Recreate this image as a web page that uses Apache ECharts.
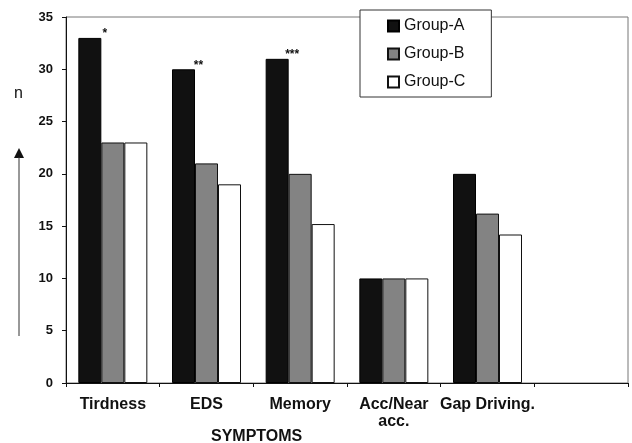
<!DOCTYPE html>
<html><head><meta charset="utf-8">
<script src="https://cdn.jsdelivr.net/npm/echarts@6/dist/echarts.min.js"></script>
<style>html,body{margin:0;padding:0;background:#fff}#c{width:632px;height:443px}</style>
</head><body><div id="c"></div>
<script>
const categories = ['Tirdness', 'EDS', 'Memory', 'Acc/Near\nacc.', 'Gap Driving.', ''];
const groupA = [33, 30, 31, 10, 20];
const groupB = [23, 21, 20, 10, 16.2];
const groupC = [23, 19, 15.2, 10, 14.2];
const stars = ['*', '**', '***', '', ''];
const yTicks = { min: 0, max: 35, interval: 5 };
const FONT = '"Liberation Sans", Arial, sans-serif';

const chart = echarts.init(document.getElementById('c'), null, { renderer: 'canvas' });
const barBase = { type: 'bar', barWidth: 23, barGap: '0%' };
chart.setOption({
  backgroundColor: '#fff',
  animation: false,
  grid: { left: 66, right: 4, top: 17, bottom: 60, show: true, borderColor: '#777', borderWidth: 1, backgroundColor: 'transparent' },
  legend: {
    orient: 'vertical', left: 360, top: 10,
    backgroundColor: '#fff', borderColor: '#333', borderWidth: 1,
    padding: [8, 26, 7, 27], itemGap: 12, itemWidth: 11, itemHeight: 11,
    textStyle: { fontFamily: FONT, fontSize: 16, color: '#111' },
    data: [{ name: 'Group-A', icon: 'rect' }, { name: 'Group-B', icon: 'rect' }, { name: 'Group-C', icon: 'rect' }]
  },
  xAxis: {
    type: 'category', data: categories, boundaryGap: true,
    axisLine: { lineStyle: { color: '#111', width: 1 } },
    axisTick: { show: true, inside: false, length: 4, lineStyle: { color: '#111' } },
    axisLabel: { fontFamily: FONT, fontSize: 16, fontWeight: 'bold', color: '#111', margin: 13, interval: 0, lineHeight: 17 }
  },
  yAxis: {
    type: 'value', min: yTicks.min, max: yTicks.max, interval: yTicks.interval,
    splitLine: { show: false },
    axisLine: { show: true, lineStyle: { color: '#111', width: 1 } },
    axisTick: { show: true, inside: false, length: 4, lineStyle: { color: '#111' } },
    axisLabel: { fontFamily: FONT, fontSize: 13, fontWeight: 'bold', color: '#111', margin: 13 }
  },
  series: [
    Object.assign({}, barBase, {
      name: 'Group-A', data: groupA,
      itemStyle: { color: '#111', borderColor: '#000', borderWidth: 1 },
      label: { show: true, position: 'top', distance: 0, offset: [15, 2], fontFamily: FONT, fontSize: 12, fontWeight: 'bold', color: '#111',
        formatter: p => stars[p.dataIndex] || '' }
    }),
    Object.assign({}, barBase, {
      name: 'Group-B', data: groupB,
      itemStyle: { color: '#838383', borderColor: '#111', borderWidth: 1 }
    }),
    Object.assign({}, barBase, {
      name: 'Group-C', data: groupC,
      itemStyle: { color: '#fff', borderColor: '#111', borderWidth: 1 }
    })
  ],
  graphic: [
    { type: 'text', left: 14, top: 86, style: { text: 'n', font: '16px ' + FONT, fill: '#111' } },
    { type: 'polygon', shape: { points: [[19, 148], [14, 158], [24, 158]] }, style: { fill: '#111' } },
    { type: 'line', shape: { x1: 19, y1: 157, x2: 19, y2: 336 }, style: { stroke: '#333', lineWidth: 1 } },
    { type: 'text', left: 211, top: 429, style: { text: 'SYMPTOMS', font: 'bold 16px ' + FONT, fill: '#111' } }
  ]
});
</script></body></html>
